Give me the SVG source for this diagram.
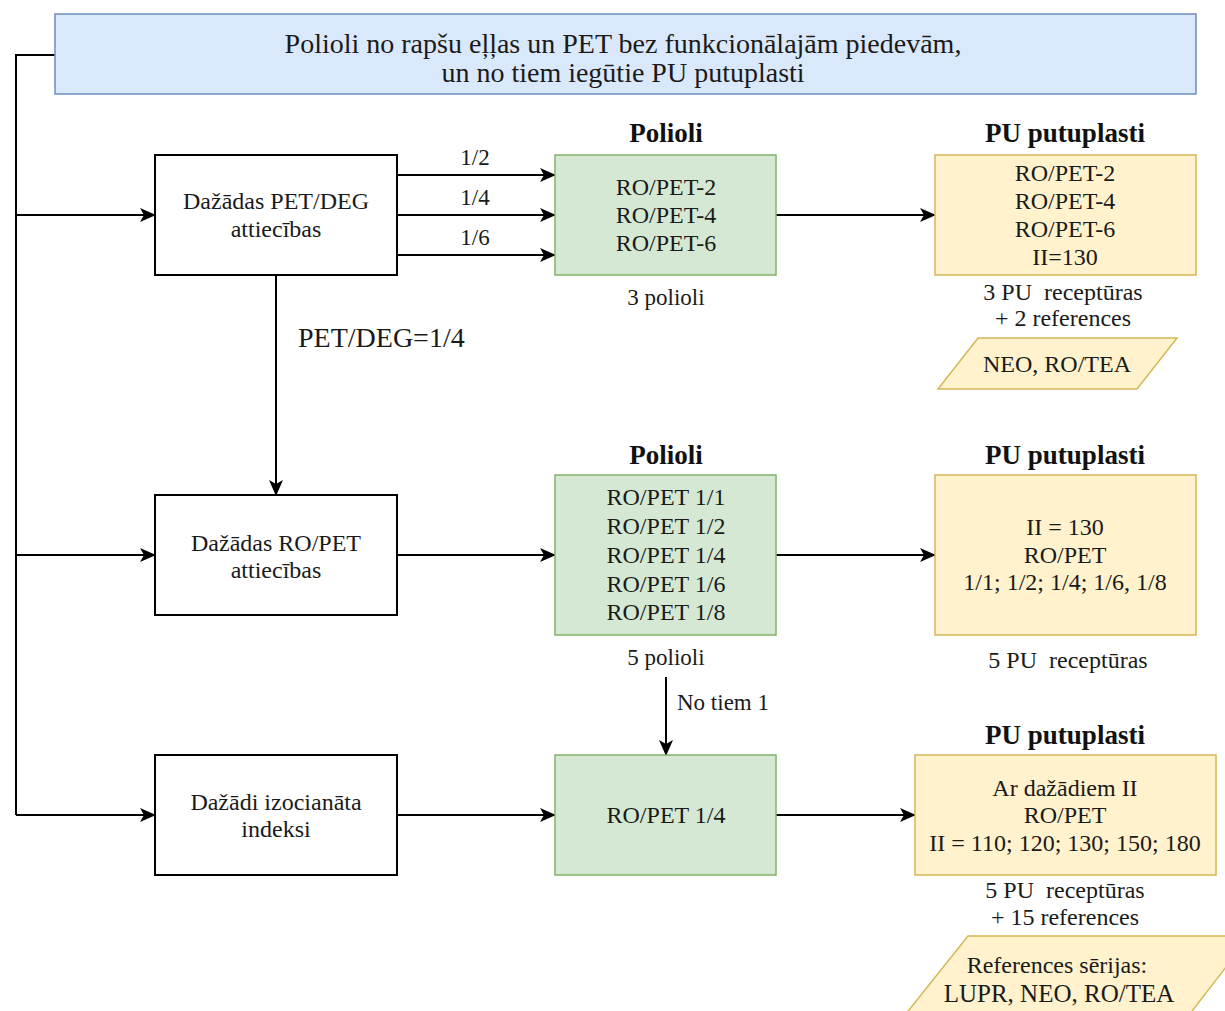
<svg xmlns="http://www.w3.org/2000/svg" width="1225" height="1011" viewBox="0 0 1225 1011" font-family="'Liberation Serif', 'DejaVu Serif', serif">
<defs>
<marker id="arr" markerUnits="userSpaceOnUse" markerWidth="16" markerHeight="14" viewBox="0 0 16 14" refX="15" refY="7" orient="auto">
<path d="M0,0 L16,7 L0,14 L4,7 Z" fill="#000"/>
</marker>
<style>
text{font-family:'Liberation Serif','DejaVu Serif',serif;font-size:24px;fill:#1a1a1a;text-anchor:middle;dominant-baseline:central}
.h{font-weight:bold;font-size:27px;fill:#111}
.big{font-size:28px}
.lbl{font-size:23px}
.st{text-anchor:start}
.wb{fill:#fff;stroke:#000;stroke-width:2}
.gr{fill:#d5e8d4;stroke:#82b366;stroke-width:1.5}
.ye{fill:#fff2cc;stroke:#d6b656;stroke-width:1.5}
.bl{fill:#dae8fc;stroke:#6c8ebf;stroke-width:1.5}
.c{fill:none;stroke:#000;stroke-width:2}
.ca{fill:none;stroke:#000;stroke-width:2;marker-end:url(#arr)}
</style>
</defs>
<rect width="1225" height="1011" fill="#fff"/>

<g id="connectors">
<path class="c" d="M55,55 H16 V815"/>
<path class="ca" d="M16,215 H155"/>
<path class="ca" d="M16,555 H155"/>
<path class="ca" d="M16,815 H155"/>
<path class="ca" d="M397,175 H555"/>
<path class="ca" d="M397,215 H555"/>
<path class="ca" d="M397,255 H555"/>
<path class="ca" d="M776,215 H935"/>
<path class="ca" d="M276,275 V495"/>
<path class="ca" d="M397,555 H555"/>
<path class="ca" d="M776,555 H935"/>
<path class="ca" d="M666,677 V755"/>
<path class="ca" d="M397,815 H555"/>
<path class="ca" d="M776,815 H915"/>
<text class="lbl" x="475" y="157">1/2</text>
<text class="lbl" x="475" y="197">1/4</text>
<text class="lbl" x="475" y="237">1/6</text>
<text class="big st" x="298" y="337">PET/DEG=1/4</text>
<text class="lbl st" x="677" y="702">No tiem 1</text>
</g>

<g id="banner">
<rect class="bl" x="55" y="14" width="1141" height="80"/>
<text class="big" x="623" y="43">Polioli no rapšu eļļas un PET bez funkcionālajām piedevām,</text>
<text class="big" x="623" y="72">un no tiem iegūtie PU putuplasti</text>
</g>

<g id="box-petdeg">
<rect class="wb" x="155" y="155" width="242" height="120"/>
<text x="276" y="201">Dažādas PET/DEG</text>
<text x="276" y="229">attiecības</text>
</g>

<g id="poliols-1">
<text class="h" x="666" y="133">Polioli</text>
<rect class="gr" x="555" y="155" width="221" height="120"/>
<text x="666" y="187">RO/PET-2</text>
<text x="666" y="215">RO/PET-4</text>
<text x="666" y="243">RO/PET-6</text>
<text class="lbl" x="666" y="297">3 polioli</text>
</g>

<g id="foams-1">
<text class="h" x="1065" y="133">PU putuplasti</text>
<rect class="ye" x="935" y="155" width="261" height="120"/>
<text x="1065" y="173">RO/PET-2</text>
<text x="1065" y="201">RO/PET-4</text>
<text x="1065" y="229">RO/PET-6</text>
<text x="1065" y="257">II=130</text>
<text x="1063" y="292" xml:space="preserve">3 PU  receptūras</text>
<text x="1063" y="318">+ 2 references</text>
</g>

<g id="refs-1">
<polygon class="ye" points="978,338 1177,338 1137,389 938,389"/>
<text x="1057" y="364">NEO, RO/TEA</text>
</g>

<g id="box-ropet">
<rect class="wb" x="155" y="495" width="242" height="120"/>
<text x="276" y="543">Dažādas RO/PET</text>
<text x="276" y="570">attiecības</text>
</g>

<g id="poliols-2">
<text class="h" x="666" y="455">Polioli</text>
<rect class="gr" x="555" y="475" width="221" height="160"/>
<text x="666" y="497">RO/PET 1/1</text>
<text x="666" y="526">RO/PET 1/2</text>
<text x="666" y="555">RO/PET 1/4</text>
<text x="666" y="584">RO/PET 1/6</text>
<text x="666" y="612">RO/PET 1/8</text>
<text class="lbl" x="666" y="657">5 polioli</text>
</g>

<g id="foams-2">
<text class="h" x="1065" y="455">PU putuplasti</text>
<rect class="ye" x="935" y="475" width="261" height="160"/>
<text x="1065" y="527">II = 130</text>
<text x="1065" y="555">RO/PET</text>
<text x="1065" y="582">1/1; 1/2; 1/4; 1/6, 1/8</text>
<text x="1068" y="660" xml:space="preserve">5 PU  receptūras</text>
</g>

<g id="box-index">
<rect class="wb" x="155" y="755" width="242" height="120"/>
<text x="276" y="802">Dažādi izocianāta</text>
<text x="276" y="829">indeksi</text>
</g>

<g id="poliols-3">
<rect class="gr" x="555" y="755" width="221" height="120"/>
<text x="666" y="815">RO/PET 1/4</text>
</g>

<g id="foams-3">
<text class="h" x="1065" y="735">PU putuplasti</text>
<rect class="ye" x="915" y="755" width="301" height="120"/>
<text x="1065" y="788">Ar dažādiem II</text>
<text x="1065" y="815">RO/PET</text>
<text x="1065" y="843">II = 110; 120; 130; 150; 180</text>
<text x="1065" y="890" xml:space="preserve">5 PU  receptūras</text>
<text x="1065" y="917">+ 15 references</text>
</g>

<g id="refs-3">
<polygon class="ye" points="968,936 1250,936 1189,1015 905,1015"/>
<text x="1057" y="965">References sērijas:</text>
<text x="1059" y="993" style="font-size:25px">LUPR, NEO, RO/TEA</text>
</g>
</svg>
